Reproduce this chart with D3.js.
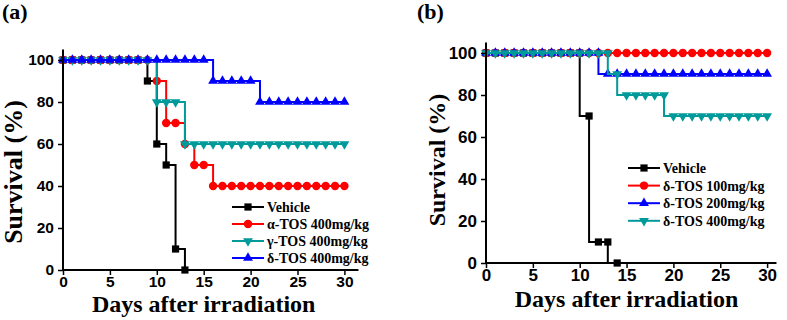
<!DOCTYPE html>
<html lang="en">
<head>
    <meta charset="UTF-8">
    <title>Survival after irradiation</title>
    <script src="https://d3js.org/d3.v7.min.js"></script>
    <style>
        body { margin: 0; background: #fff; }
        svg { display: block; }
        .tick-label { font-family: "Liberation Sans", Arial, sans-serif; font-weight: bold; }
        .serif { font-family: "Liberation Serif", "Times New Roman", serif; font-weight: bold; }
    </style>
</head>
<body>
    <div id="chart"></div>

    <script>
        // ---- data ----
        const days = [0,1,2,3,4,5,6,7,8,9,10,11,12,13,14,15,16,17,18,19,20,21,22,23,24,25,26,27,28,29,30];
        const xTicks = [0, 5, 10, 15, 20, 25, 30];
        const yTicks = [0, 20, 40, 60, 80, 100];

        // panel (a)
        const namesA = ["Vehicle", "\u03b1-TOS 400mg/kg", "\u03b3-TOS 400mg/kg", "\u03b4-TOS 400mg/kg"];
        const vehicleA = [100,100,100,100,100,100,100,100,100,90,60,50,10,0];
        const alphaA   = [100,100,100,100,100,100,100,100,100,100,90,70,70,60,50,50,40,40,40,40,40,40,40,40,40,40,40,40,40,40,40];
        const gammaA   = [100,100,100,100,100,100,100,100,100,100,80,80,80,60,60,60,60,60,60,60,60,60,60,60,60,60,60,60,60,60,60];
        const deltaA   = [100,100,100,100,100,100,100,100,100,100,100,100,100,100,100,100,90,90,90,90,90,80,80,80,80,80,80,80,80,80,80];

        // panel (b)
        const namesB = ["Vehicle", "\u03b4-TOS 100mg/kg", "\u03b4-TOS 200mg/kg", "\u03b4-TOS 400mg/kg"];
        const vehicleB = [100,100,100,100,100,100,100,100,100,100,100,70,10,10,0];
        const dose100B = [100,100,100,100,100,100,100,100,100,100,100,100,100,100,100,100,100,100,100,100,100,100,100,100,100,100,100,100,100,100,100];
        const dose200B = [100,100,100,100,100,100,100,100,100,100,100,100,100,90,90,90,90,90,90,90,90,90,90,90,90,90,90,90,90,90,90];
        const dose400B = [100,100,100,100,100,100,100,100,100,100,100,100,100,100,90,80,80,80,80,80,70,70,70,70,70,70,70,70,70,70,70];

        const colors = { black: "#000000", red: "#ff0000", blue: "#0000ff", teal: "#009a9a" };

        const svg = d3.select("#chart").append("svg")
            .attr("width", 787)
            .attr("height", 320);

        function markerPath(shape) {
            if (shape === "square") return d3.symbol(d3.symbolSquare, 52)();
            if (shape === "circle") return d3.symbol(d3.symbolCircle, 56)();
            return d3.symbol(d3.symbolTriangle, 42)();
        }

        function drawPanel(p) {
            const g = svg.append("g");

            const x = d3.scaleLinear().domain([0, p.xMax]).range([p.x0, p.x0 + p.xMax * p.dayPx]);
            const y = d3.scaleLinear().domain([0, 105]).range([p.y0, p.y0 - 105 * p.pctPx]);

            // series (lines + markers), later ones on top
            const line = d3.line()
                .x((d, i) => x(days[i]))
                .y(d => y(d))
                .curve(p.curve);

            p.series.forEach(s => {
                g.append("path")
                    .datum(s.values)
                    .attr("fill", "none")
                    .attr("stroke", s.color)
                    .attr("stroke-width", 2)
                    .attr("d", line);

                g.selectAll(null)
                    .data(s.values)
                    .enter()
                    .append("path")
                    .attr("d", markerPath(s.shape))
                    .attr("transform", (d, i) => `translate(${x(days[i])},${y(d)})` + (s.down ? " rotate(180)" : ""))
                    .attr("fill", s.color);
            });

            // axes
            const xAxis = g.append("g").attr("transform", `translate(0,${p.y0})`);
            xAxis.call(d3.axisBottom(x).tickValues([2.5, 7.5, 12.5, 17.5, 22.5, 27.5]).tickSize(3).tickFormat(""));
            xAxis.call(d3.axisBottom(x).tickValues(xTicks).tickSize(5).tickPadding(1).tickFormat(d3.format("d")));
            xAxis.select(".domain").remove();
            xAxis.append("line")
                .attr("x1", x(0) - 1).attr("x2", x(p.xMax))
                .attr("stroke", "#000").attr("stroke-width", 2);

            const yAxis = g.append("g").attr("transform", `translate(${p.x0},0)`);
            yAxis.call(d3.axisLeft(y).tickValues([10, 30, 50, 70, 90]).tickSize(3).tickFormat(""));
            yAxis.call(d3.axisLeft(y).tickValues(yTicks).tickSize(5).tickPadding(4));
            yAxis.select(".domain").remove();
            yAxis.append("line")
                .attr("y1", y(0) + 1).attr("y2", y(105))
                .attr("stroke", "#000").attr("stroke-width", 2);

            g.selectAll(".tick line").attr("stroke-width", 1.5);
            g.selectAll(".tick text")
                .attr("class", "tick-label")
                .style("font-size", p.tickFont + "px")
                .attr("fill", "#000");
            g.selectAll(".domain").remove();

            // legend
            p.series.forEach((s, i) => {
                const ly = p.legendY + i * p.legendStep;
                g.append("line")
                    .attr("x1", p.legendX).attr("x2", p.legendX + 32)
                    .attr("y1", ly).attr("y2", ly)
                    .attr("stroke", s.color).attr("stroke-width", 2);
                g.append("path")
                    .attr("d", markerPath(s.shape))
                    .attr("transform", `translate(${p.legendX + 16},${ly})` + (s.down ? " rotate(180)" : ""))
                    .attr("fill", s.color);
                g.append("text")
                    .attr("class", "serif")
                    .attr("x", p.legendX + 35)
                    .attr("y", ly + 5)
                    .style("font-size", "14px")
                    .text(s.name);
            });

            // titles
            g.append("text")
                .attr("class", "serif")
                .attr("x", (x(0) + x(30)) / 2)
                .attr("y", p.xLabelY)
                .attr("text-anchor", "middle")
                .style("font-size", "24px")
                .text("Days after irradiation");

            g.append("text")
                .attr("class", "serif")
                .attr("transform", `translate(${p.yLabelX},${p.yLabelY}) rotate(-90)`)
                .attr("text-anchor", "middle")
                .style("font-size", p.yLabelFont + "px")
                .text("Survival (%)");

            g.append("text")
                .attr("class", "serif")
                .attr("x", p.tagX)
                .attr("y", 19)
                .style("font-size", "22px")
                .text(p.tag);
        }

        drawPanel({
            tag: "(a)", tagX: 2,
            x0: 63, y0: 270, dayPx: 9.38, pctPx: 2.1, xMax: 31.5,
            curve: d3.curveStepAfter,
            tickFont: 15.5,
            legendX: 232, legendY: 207, legendStep: 17,
            xLabelY: 312, yLabelX: 22, yLabelY: 172, yLabelFont: 26,
            series: [
                { name: namesA[0], values: vehicleA, color: colors.black, shape: "square" },
                { name: namesA[1], values: alphaA, color: colors.red, shape: "circle" },
                { name: namesA[2], values: gammaA, color: colors.teal, shape: "triangle", down: true },
                { name: namesA[3], values: deltaA, color: colors.blue, shape: "triangle" }
            ]
        });

        drawPanel({
            tag: "(b)", tagX: 417,
            x0: 486, y0: 263, dayPx: 9.37, pctPx: 2.1, xMax: 31,
            curve: d3.curveStepBefore,
            tickFont: 17,
            legendX: 628, legendY: 168, legendStep: 17.6,
            xLabelY: 307, yLabelX: 445, yLabelY: 160, yLabelFont: 24,
            series: [
                { name: namesB[0], values: vehicleB, color: colors.black, shape: "square" },
                { name: namesB[1], values: dose100B, color: colors.red, shape: "circle" },
                { name: namesB[2], values: dose200B, color: colors.blue, shape: "triangle" },
                { name: namesB[3], values: dose400B, color: colors.teal, shape: "triangle", down: true }
            ]
        });
    </script>
</body>
</html>
